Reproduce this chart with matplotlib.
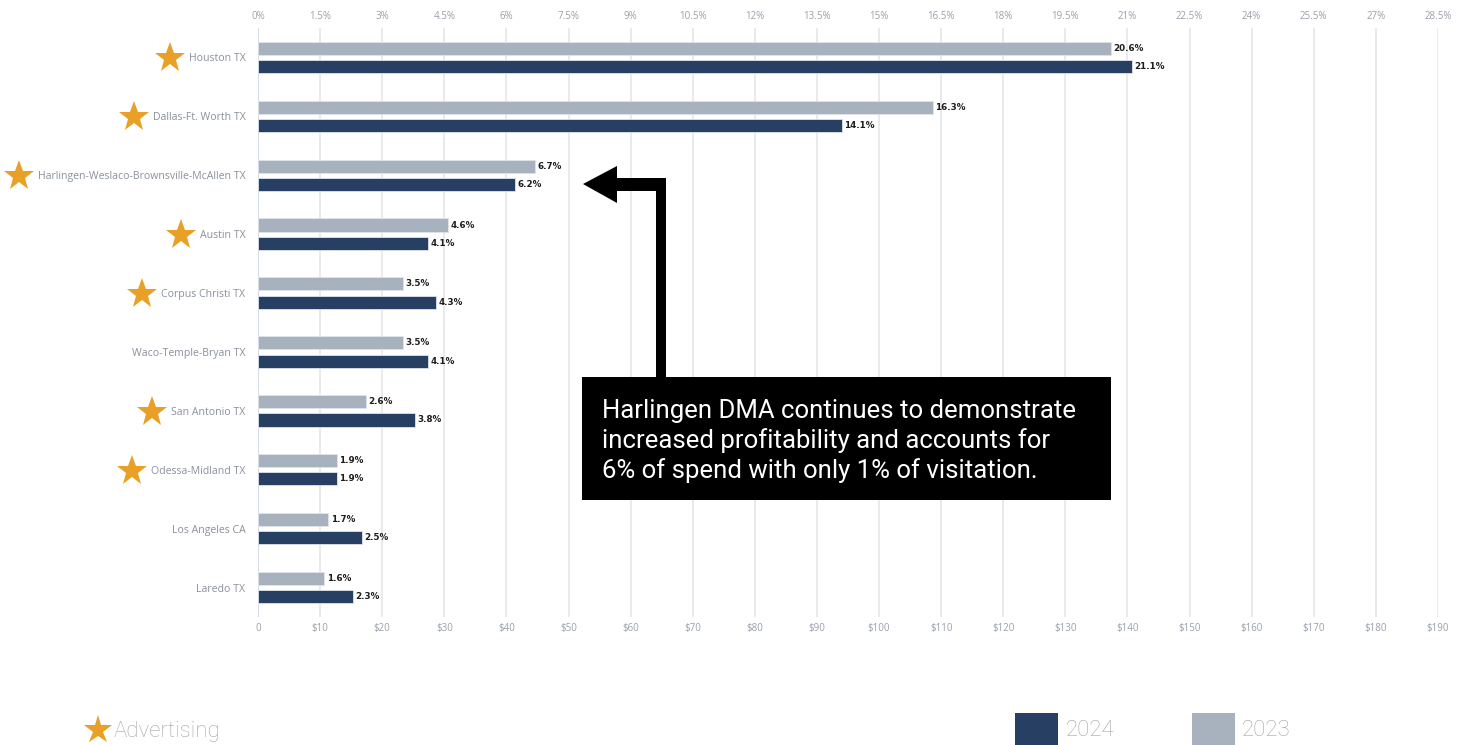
import matplotlib
matplotlib.use("Agg")
import matplotlib.pyplot as plt
import matplotlib.patches as mpatches
from matplotlib.lines import Line2D
import numpy as np

# ---------------- data ----------------
markets = ["Houston TX", "Dallas-Ft. Worth TX", "Harlingen-Weslaco-Brownsville-McAllen TX",
           "Austin TX", "Corpus Christi TX", "Waco-Temple-Bryan TX", "San Antonio TX",
           "Odessa-Midland TX", "Los Angeles CA", "Laredo TX"]
share_2023 = [20.6, 16.3, 6.7, 4.6, 3.5, 3.5, 2.6, 1.9, 1.7, 1.6]
share_2024 = [21.1, 14.1, 6.2, 4.1, 4.3, 4.1, 3.8, 1.9, 2.5, 2.3]
advertising = [True, True, True, True, True, False, True, True, False, False]
pct_ticks = [i * 1.5 for i in range(20)]          # 0% .. 28.5%
dollar_ticks = list(range(0, 200, 10))            # $0 .. $190
callout = ("Harlingen DMA continues to demonstrate\n"
           "increased profitability and accounts for\n"
           "6% of spend with only 1% of visitation.")

C24 = "#263f63"
C23 = "#a8b2bf"
STAR = "#e8a026"
W, H = 1462, 745

plt.rcParams['font.family'] = ['Open Sans', 'DejaVu Sans']
fig = plt.figure(figsize=(W / 100, H / 100), dpi=100)

def fx(px):
    return px / W

def fy(py):
    return 1 - py / H

ax_l, ax_r, ax_t, ax_b = 258, 1438, 28, 617
ax = fig.add_axes([fx(ax_l), fy(ax_b), (ax_r - ax_l) / W, (ax_b - ax_t) / H])

y = np.arange(len(markets))
off, bh = 0.155, 0.222
ax.barh(y - off, share_2023, height=bh, color=C23, edgecolor="#dfe3ea", linewidth=0.6, zorder=3)
ax.barh(y + off, share_2024, height=bh, color=C24, edgecolor="#dfe3ea", linewidth=0.6, zorder=3)
for yy, v in zip(y - off, share_2023):
    ax.text(v + 0.06, yy, f"{v:.1f}%", va="center", ha="left", fontsize=6.3,
            fontweight="bold", family="DejaVu Sans", color="#1d1d1d", zorder=4)
for yy, v in zip(y + off, share_2024):
    ax.text(v + 0.06, yy, f"{v:.1f}%", va="center", ha="left", fontsize=6.3,
            fontweight="bold", family="DejaVu Sans", color="#1d1d1d", zorder=4)

ax.set_xlim(0, 28.5)
ax.set_ylim(len(markets) - 0.5, -0.5)
ax.set_yticks(y)
ax.set_yticklabels(markets, fontsize=7.6, color="#8a909c")
ax.tick_params(axis="y", length=0, pad=9)

ax.xaxis.tick_top()
ax.set_xticks(pct_ticks)
ax.set_xticklabels([f"{t:g}%" for t in pct_ticks], fontsize=7, color="#9aa0aa")
ax.tick_params(axis="x", length=0, pad=4.5)
ax.grid(axis="x", color="#e9e9ee", linewidth=1.4, zorder=0)
for s in ax.spines.values():
    s.set_visible(False)
ax.axvline(0, color="#d3dbe6", linewidth=1.2, zorder=2)

sec = ax.secondary_xaxis("bottom", functions=(lambda x: x * 190 / 28.5, lambda x: x * 28.5 / 190))
sec.set_xticks(dollar_ticks)
sec.set_xticklabels(["0"] + [f"${d}" for d in dollar_ticks[1:]], fontsize=7, color="#9aa0aa")
sec.tick_params(axis="x", length=0, pad=4.5)
for s in sec.spines.values():
    s.set_visible(False)

# stars next to advertising markets
fig.canvas.draw()
r = fig.canvas.get_renderer()
for lab, adv in zip(ax.get_yticklabels(), advertising):
    if adv:
        bb = lab.get_window_extent(r)
        sx = bb.x0 - 19
        sy = (bb.y0 + bb.y1) / 2 + 0.5
        fig.add_artist(Line2D([sx / W], [sy / H], marker="*", markersize=23,
                              color=STAR, markeredgewidth=0, transform=fig.transFigure))

# callout box
fig.add_artist(mpatches.Rectangle((fx(582), fy(500)), (1111 - 582) / W, (500 - 377) / H,
                                  transform=fig.transFigure, facecolor="black", edgecolor="none", zorder=5))
fig.text(fx(602), fy(441), callout, color="white", fontsize=18.5, family="Roboto",
         va="center", ha="left", linespacing=1.27, zorder=6)

# arrow
arrow_poly = [(656, 377), (666, 377), (666, 178), (617, 178), (617, 166), (583, 184),
              (617, 203), (617, 191), (656, 191)]
fig.add_artist(mpatches.Polygon([(fx(a), fy(b)) for a, b in arrow_poly], closed=True,
                                transform=fig.transFigure, facecolor="black", edgecolor="none", zorder=5))

# legend
fig.add_artist(Line2D([fx(98)], [fy(730)], marker="*", markersize=21, color=STAR,
                      markeredgewidth=0, transform=fig.transFigure))
fig.text(fx(114), fy(731), "Advertising", fontsize=16, color="#a5a5a5",
         family="Roboto", fontweight="light", va="center", ha="left")
fig.add_artist(mpatches.Rectangle((fx(1015), fy(745)), 43 / W, 32 / H, transform=fig.transFigure,
                                  facecolor=C24, edgecolor="none"))
fig.text(fx(1066), fy(730), "2024", fontsize=16, color="#a5a5a5",
         family="Roboto", fontweight="light", va="center", ha="left")
fig.add_artist(mpatches.Rectangle((fx(1192), fy(745)), 43 / W, 32 / H, transform=fig.transFigure,
                                  facecolor=C23, edgecolor="none"))
fig.text(fx(1242), fy(730), "2023", fontsize=16, color="#a5a5a5",
         family="Roboto", fontweight="light", va="center", ha="left")

fig.savefig("out.png", dpi=100)
